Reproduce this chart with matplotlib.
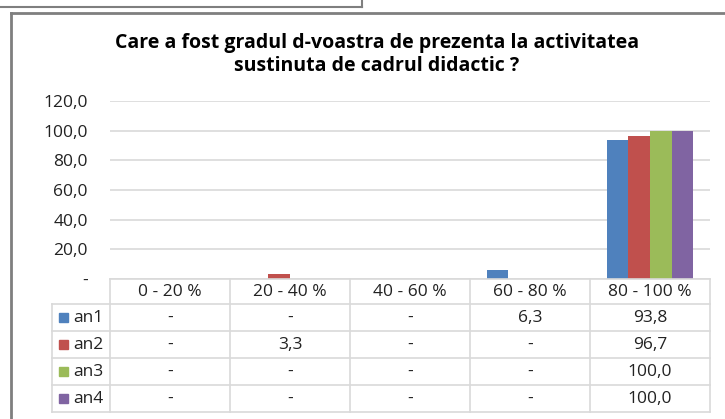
import matplotlib.pyplot as plt
import numpy as np
from matplotlib.lines import Line2D

plt.rcParams['font.family'] = ['Open Sans', 'DejaVu Sans']

categories = ['0 - 20 %', '20 - 40 %', '40 - 60 %', '60 - 80 %', '80 - 100 %']
series = ['an1', 'an2', 'an3', 'an4']
an1 = [0, 0, 0, 6.3, 93.8]
an2 = [0, 3.3, 0, 0, 96.7]
an3 = [0, 0, 0, 0, 100.0]
an4 = [0, 0, 0, 0, 100.0]
values = [an1, an2, an3, an4]
colors = ['#4F81BD', '#C0504D', '#9BBB59', '#8064A2']
yticks = [0, 20, 40, 60, 80, 100, 120]


def fmt(v):
    return '-' if v == 0 else ('%.1f' % v).replace('.', ',')


W, H = 725, 419
fig = plt.figure(figsize=(7.25, 4.19), dpi=100)

# axes placed in pixel units
L, R, T, B = 110, 710, 101, 279
ax = fig.add_axes([L / W, 1 - B / H, (R - L) / W, (B - T) / H])

x = np.arange(len(categories))
bw = 0.18
for i, (s, v) in enumerate(zip(series, values)):
    ax.bar(x + (i - 1.5) * bw, v, width=bw, color=colors[i], zorder=3)

ax.set_xlim(-0.5, len(categories) - 0.5)
ax.set_ylim(0, 120)
ax.set_yticks(yticks)
ax.set_yticklabels([fmt(t) for t in yticks], fontsize=12.5, color='#222222')
ax.tick_params(axis='y', length=0, pad=16)
ax.tick_params(axis='x', length=0, labelbottom=False)
ax.grid(axis='y', color='#D9D9D9', linewidth=1.2, zorder=0)
for sp in ax.spines.values():
    sp.set_visible(False)

# data table below the axes
grid_c = '#D9D9D9'
row_h = 27
head_h = 25
leg_left = 52
rows_y = [B, B + head_h] + [B + head_h + row_h * (k + 1) for k in range(len(series))]


def fx(px):
    return px / W


def fy(py):
    return 1 - py / H


def fline(x0, x1, y0, y1):
    fig.add_artist(Line2D([fx(x0), fx(x1)], [fy(y0), fy(y1)], color=grid_c, lw=1.2))


col_w = (R - L) / len(categories)
fline(L, R, rows_y[0], rows_y[0])
for yy in rows_y[1:]:
    fline(leg_left, R, yy, yy)
for k in range(len(categories) + 1):
    fline(L + k * col_w, L + k * col_w, rows_y[0], rows_y[-1])
fline(leg_left, leg_left, rows_y[1], rows_y[-1])

tfont = dict(fontsize=12.5, color='#222222')
for j, c in enumerate(categories):
    fig.text(fx(L + (j + 0.5) * col_w), fy((rows_y[0] + rows_y[1]) / 2), c,
             ha='center', va='center', **tfont)
for i, (s, v) in enumerate(zip(series, values)):
    yc = fy((rows_y[i + 1] + rows_y[i + 2]) / 2)
    fig.patches.append(plt.Rectangle((fx(59), yc - 4.5 / H), 9 / W, 9 / H,
                                     color=colors[i], transform=fig.transFigure, figure=fig))
    fig.text(fx(73), yc, s, ha='left', va='center', **tfont)
    for j, val in enumerate(v):
        fig.text(fx(L + (j + 0.5) * col_w), yc, fmt(val), ha='center', va='center', **tfont)

# title
fig.text(fx(377), fy(43), 'Care a fost gradul d-voastra de prezenta la activitatea',
         ha='center', va='center', fontsize=14, fontweight='bold')
fig.text(fx(377), fy(66), 'sustinuta de cadrul didactic ?',
         ha='center', va='center', fontsize=14, fontweight='bold')

# chart frame borders
frame_c = '#7F7F7F'
fig.add_artist(Line2D([fx(11), fx(11)], [fy(13), fy(419)], color=frame_c, lw=2))
fig.add_artist(Line2D([fx(11), fx(725)], [fy(13), fy(13)], color=frame_c, lw=2))
fig.add_artist(Line2D([fx(0), fx(362)], [fy(7), fy(7)], color=frame_c, lw=1.5))
fig.add_artist(Line2D([fx(362), fx(362)], [fy(0), fy(7)], color=frame_c, lw=1.5))

fig.savefig('out.png', dpi=100)
